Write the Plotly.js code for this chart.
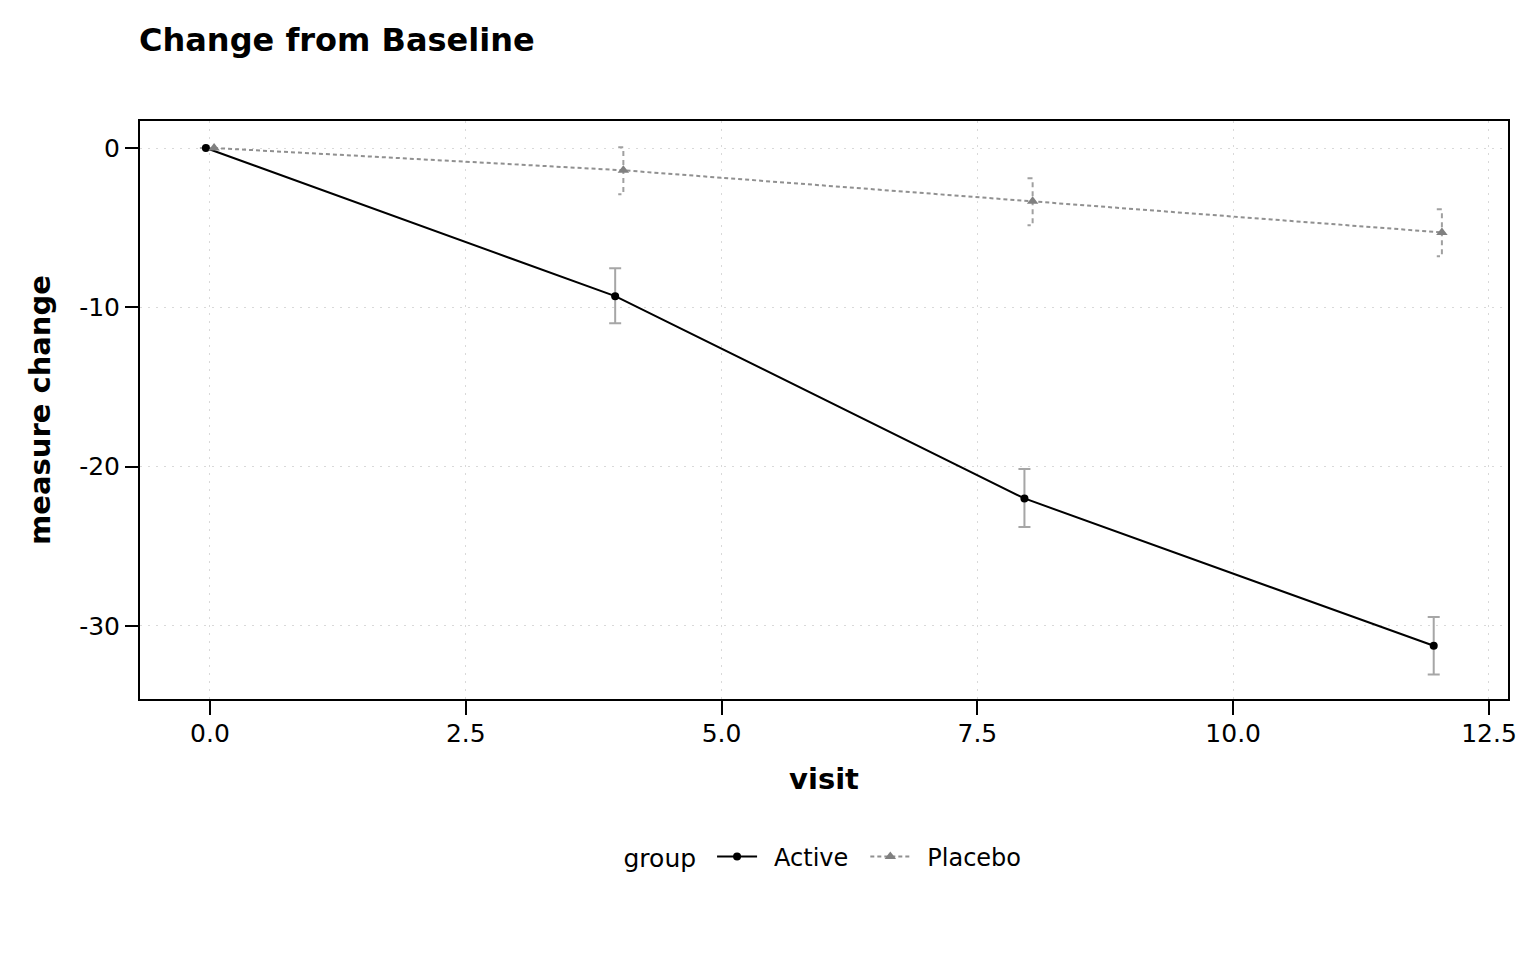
<!DOCTYPE html>
<html>
<head>
<meta charset="utf-8">
<script src="https://cdn.plot.ly/plotly-3.0.1.min.js"></script>
<style>html,body{margin:0;padding:0;background:#fff;}#chart{width:1536px;height:960px;}</style>
</head>
<body>
<div id="chart"></div>
<script>
// Data
const visits = [0, 4, 8, 12];
const activeMean = [0, -9.3, -22.0, -31.25];
const activeLo = [0, -11.0, -23.8, -33.05];
const activeHi = [0, -7.55, -20.15, -29.45];
const placeboMean = [0, -1.4, -3.35, -5.3];
const placeboLo = [0, -2.9, -4.85, -6.8];
const placeboHi = [0, 0.05, -1.9, -3.85];
const dodge = 0.04;
const groupNames = ['Active', 'Placebo'];
const xTickVals = [0, 2.5, 5, 7.5, 10, 12.5];
const xTickText = ['0.0', '2.5', '5.0', '7.5', '10.0', '12.5'];
const yTickVals = [0, -10, -20, -30];
const yTickText = ['0', '-10', '-20', '-30'];

const FONT = 'DejaVu Sans, sans-serif';
const SP = '\u2002';
const legendNames = groupNames.map((n, i) => SP + n + (i < groupNames.length - 1 ? SP : ''));
const xA = visits.map(v => v - dodge);
const xP = visits.map(v => v + dodge);

// dashed error segments for placebo, derived from data arrays
const pex = [], pey = [];
const capW = 0.05;
for (let i = 0; i < visits.length; i++) {
  if (placeboHi[i] === placeboLo[i]) continue;
  pex.push(xP[i] - capW, xP[i], xP[i], xP[i] - capW, null);
  pey.push(placeboHi[i], placeboHi[i], placeboLo[i], placeboLo[i], null);
}

const traces = [
  {
    x: xA, y: activeMean, type: 'scatter', mode: 'lines+markers', name: legendNames[0],
    line: {color: '#000000', width: 2},
    marker: {color: '#000000', size: 8, symbol: 'circle'},
    error_y: {type: 'data', symmetric: false,
      array: activeHi.map((h, i) => h - activeMean[i]),
      arrayminus: activeMean.map((m, i) => m - activeLo[i]),
      color: 'rgba(128,128,128,0.7)', thickness: 2, width: 6}
  },
  {
    x: pex, y: pey, type: 'scatter', mode: 'lines', showlegend: false, hoverinfo: 'skip',
    line: {color: 'rgba(128,128,128,0.75)', width: 2, dash: '5px,4px'}
  },
  {
    x: xP, y: placeboMean, type: 'scatter', mode: 'lines+markers', name: legendNames[1],
    line: {color: '#909090', width: 2, dash: '4px,3px'},
    marker: {color: '#808080', size: 10, symbol: 'triangle-up'}
  }
];

const layout = {
  width: 1536, height: 960,
  paper_bgcolor: '#ffffff', plot_bgcolor: '#ffffff',
  margin: {l: 140, r: 28, t: 121, b: 261},
  font: {family: FONT, size: 24, color: '#000'},
  title: {text: '<b>Change from Baseline</b>', x: 139/1536, xanchor: 'left', y: 1 - 40/960, yanchor: 'middle',
    font: {family: FONT, size: 32, color: '#000'}},
  xaxis: {
    range: [-0.684, 12.686], tickvals: xTickVals, ticktext: xTickText,
    showgrid: true, gridcolor: '#d9d9d9', griddash: '2px,6px', gridwidth: 1,
    zeroline: false, showline: true, linecolor: '#000', linewidth: 2, mirror: true,
    ticks: 'outside', ticklen: 14, tickwidth: 2, tickcolor: '#000',
    tickfont: {family: FONT, size: 25, color: '#000'}, ticklabelstandoff: -3,
    title: {text: '<b>visit</b>', font: {family: FONT, size: 29, color: '#000'}, standoff: 22}
  },
  yaxis: {
    range: [-34.59, 1.695], tickvals: yTickVals, ticktext: yTickText,
    showgrid: true, gridcolor: '#d9d9d9', griddash: '2px,6px', gridwidth: 1,
    zeroline: false, showline: true, linecolor: '#000', linewidth: 2, mirror: true,
    ticks: 'outside', ticklen: 13, tickwidth: 2, tickcolor: '#000',
    tickfont: {family: FONT, size: 25, color: '#000'},
    title: {text: '<b>measure change</b>', font: {family: FONT, size: 29, color: '#000'}, standoff: 20}
  },
  showlegend: true,
  legend: {
    orientation: 'h', x: 0.5, xanchor: 'center', y: -0.273, yanchor: 'middle',
    title: {text: 'group ', font: {family: FONT, size: 25, color: '#000'}},
    font: {family: FONT, size: 24, color: '#000'},
    itemwidth: 40
  }
};

Plotly.newPlot('chart', traces, layout, {displayModeBar: false, staticPlot: true});
</script>
</body>
</html>
